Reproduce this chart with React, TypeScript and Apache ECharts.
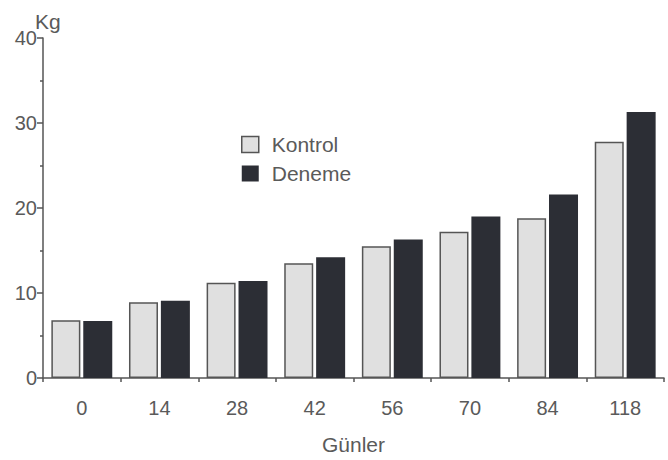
import React, { useEffect, useRef } from "react";
import * as echarts from "echarts";

const categories = ["0", "14", "28", "42", "56", "70", "84", "118"];
const kontrol = [6.8, 8.9, 11.2, 13.5, 15.5, 17.2, 18.8, 27.8];
const deneme = [6.7, 9.1, 11.4, 14.2, 16.3, 19.0, 21.6, 31.3];
const yTicks = { min: 0, max: 40, interval: 10 };

const FONT = "Liberation Sans, Arial, sans-serif";
const TEXT = "#5a5a5a";

export default function App() {
  const ref = useRef<HTMLDivElement>(null);
  useEffect(() => {
    if (!ref.current) return;
    const chart = echarts.init(ref.current, undefined, { renderer: "svg" });
    chart.setOption({
      animation: false,
      backgroundColor: "#ffffff",
      grid: { left: 43, right: 4, top: 38, bottom: 78, containLabel: false },
      legend: {
        orient: "vertical",
        left: 241,
        top: 134,
        padding: 0,
        itemWidth: 17,
        itemHeight: 16,
        itemGap: 8,
        textStyle: { fontFamily: FONT, fontSize: 21, color: TEXT, padding: [0, 0, 0, 8] },
        data: [
          { name: "Kontrol", icon: "rect", itemStyle: { color: "#e0e0e0", borderColor: "#555", borderWidth: 1.5 } },
          { name: "Deneme", icon: "rect", itemStyle: { color: "#2c2e35" } },
        ],
      },
      graphic: [
        {
          type: "text",
          left: 35,
          top: 11,
          style: { text: "Kg", fontFamily: FONT, fontSize: 21, fill: TEXT },
        },
      ],
      xAxis: {
        type: "category",
        data: categories,
        name: "Günler",
        nameLocation: "middle",
        nameGap: 56,
        nameTextStyle: { fontFamily: FONT, fontSize: 21, color: TEXT },
        axisLine: { lineStyle: { color: "#555", width: 1.5 } },
        axisTick: { show: true, length: 4, lineStyle: { color: "#555", width: 1.5 } },
        axisLabel: { fontFamily: FONT, fontSize: 20, color: TEXT, margin: 20 },
      },
      yAxis: {
        type: "value",
        min: yTicks.min,
        max: yTicks.max,
        interval: yTicks.interval,
        axisLine: { show: true, lineStyle: { color: "#555", width: 1.5 } },
        axisTick: { show: true, length: 6, lineStyle: { color: "#555", width: 1.5 } },
        minorTick: { show: true, splitNumber: 2, length: 3, lineStyle: { color: "#555", width: 1.5 } },
        splitLine: { show: false },
        axisLabel: { fontFamily: FONT, fontSize: 20, color: TEXT, margin: 6 },
      },
      series: [
        {
          name: "Kontrol",
          type: "bar",
          data: kontrol,
          barWidth: 29,
          barGap: "10%",
          itemStyle: { color: "#e0e0e0", borderColor: "#555", borderWidth: 1.5 },
        },
        {
          name: "Deneme",
          type: "bar",
          data: deneme,
          barWidth: 29,
          barGap: "10%",
          itemStyle: { color: "#2c2e35" },
        },
      ],
    });
    return () => chart.dispose();
  }, []);
  return (
    <div
      ref={ref}
      style={{ position: "fixed", left: 0, top: 0, width: 668, height: 460 }}
    />
  );
}
